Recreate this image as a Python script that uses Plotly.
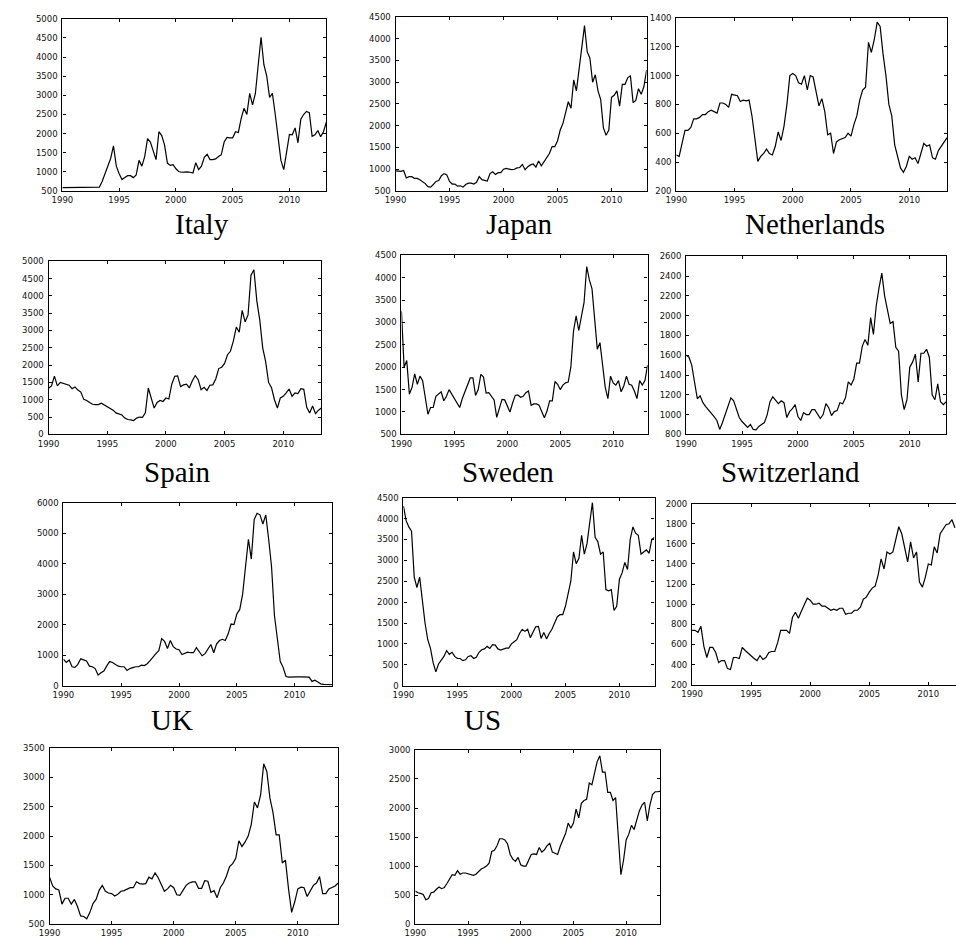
import plotly.graph_objects as go

# ---------------------------------------------------------------------------
# Quarterly series, 1990Q1 onward (one value per quarter)
# ---------------------------------------------------------------------------
START_YEAR = 1990.0

italy = [590, 590, 590, 590, 590, 590, 590, 590, 590, 590, 590, 590,
         590, 600, 750, 950, 1150, 1350, 1680, 1150, 950, 800, 850, 900,
         900, 850, 920, 1300, 1150, 1400, 1870, 1780, 1550, 1320, 2050, 1950,
         1700, 1230, 1170, 1190, 1080, 1010, 990, 1000, 1000, 990, 970, 1240,
         1060, 1150, 1380, 1460, 1320, 1320, 1340, 1400, 1450, 1780, 1900, 1890,
         1890, 2050, 2030, 2400, 2660, 2500, 3050, 2750, 3050, 3800, 4520, 3800,
         3500, 2950, 3050, 2500, 1900, 1300, 1060, 1500, 1980, 1970, 2150, 1760,
         2380, 2500, 2580, 2550, 1930, 1970, 2080, 1920, 2050, 2300]

japan = [960, 960, 950, 970, 800, 830, 830, 790, 790, 760, 720, 670,
         600, 590, 650, 720, 740, 850, 900, 870, 720, 660, 660, 610,
         620, 590, 650, 680, 680, 660, 700, 830, 760, 750, 730, 900,
         940, 880, 920, 920, 1000, 1020, 1000, 990, 1000, 1030, 1040, 1110,
         990, 1060, 1100, 1120, 1050, 1190, 1080, 1170, 1250, 1360, 1520, 1520,
         1650, 1900, 2050, 2300, 2550, 2400, 3050, 2800, 3300, 3800, 4300, 3700,
         3550, 3000, 3170, 2800, 2600, 1950, 1780, 1900, 2650, 2700, 2800, 2450,
         2950, 2950, 3100, 3150, 2530, 2580, 2850, 2720, 2900, 3280]

netherlands = [450, 440, 530, 620, 620, 640, 700, 700, 710, 730, 730, 750,
               760, 750, 740, 810, 810, 800, 780, 870, 865, 860, 820, 830,
               825, 830, 720, 540, 405, 440, 460, 490, 460, 450, 510, 610,
               550, 650, 800, 1000, 1015, 1000, 950, 940, 1000, 900, 1000, 990,
               880, 790, 840, 750, 590, 600, 460, 540, 555, 565, 570, 600,
               580, 660, 720, 830, 900, 920, 1230, 1160, 1250, 1370, 1340, 1150,
               1000, 800, 720, 520, 430, 360, 330, 370, 440, 420, 430, 390,
               460, 530, 510, 520, 430, 420, 480, 510, 540, 570]

spain = [1330, 1400, 1680, 1400, 1500, 1480, 1450, 1420, 1320, 1370, 1280, 1220,
         1010, 980, 920, 870, 860, 860, 900, 850, 800, 760, 700, 620,
         590, 560, 470, 430, 420, 400, 470, 500, 490, 620, 1340, 1050,
         760, 920, 980, 950, 1050, 1020, 1450, 1680, 1690, 1380, 1430, 1450,
         1340, 1550, 1700, 1580, 1290, 1360, 1270, 1420, 1430, 1600, 1900, 1940,
         2050, 2300, 2400, 2700, 3100, 2950, 3580, 3250, 3450, 4600, 4750, 3850,
         3300, 2500, 2100, 1500, 1350, 1000, 760, 1050, 1100, 1200, 1310, 1100,
         1200, 1180, 1320, 1300, 780, 620, 820, 600, 700, 760]

sweden = [3250, 2000, 2150, 1400, 1550, 1850, 1620, 1800, 1700, 1300, 950, 1100,
          1100, 1350, 1400, 1450, 1250, 1350, 1500, 1400, 1300, 1170, 1100, 1300,
          1450, 1620, 1760, 1760, 1370, 1500, 1840, 1780, 1420, 1430, 1350, 1270,
          880, 1100, 1280, 1270, 1150, 1000, 1200, 1370, 1380, 1330, 1350, 1430,
          1470, 1150, 1180, 1180, 1150, 1020, 870, 1020, 1250, 1250, 1680, 1620,
          1500, 1600, 1650, 1670, 2000, 2800, 3150, 2820, 3100, 3450, 4250, 3950,
          3750, 3000, 2400, 2550, 2000, 1550, 1300, 1800, 1650, 1600, 1700, 1450,
          1580, 1800, 1620, 1600, 1470, 1300, 1700, 1600, 1700, 2050]

switzerland = [1600, 1580, 1500, 1330, 1160, 1190, 1120, 1080, 1050, 1010, 980, 940,
               850, 920, 1000, 1070, 1170, 1140, 1060, 970, 930, 900, 870, 900,
               850, 845, 880, 900, 920, 1000, 1130, 1180, 1150, 1110, 1140, 1120,
               970, 1030, 1060, 1100, 980, 940, 1020, 1000, 1000, 1050, 1050, 1000,
               960, 1000, 1110, 1070, 990, 1030, 1040, 1120, 1110, 1170, 1330, 1300,
               1360, 1520, 1520, 1690, 1760, 1700, 1980, 1810, 2100, 2280, 2430, 2200,
               2050, 1920, 1940, 1680, 1640, 1200, 1050, 1150, 1480, 1530, 1610, 1330,
               1620, 1620, 1660, 1580, 1200, 1150, 1310, 1130, 1100, 1130]

uk = [870, 760, 840, 620, 600, 700, 880, 850, 810, 640, 620, 560,
      350, 420, 480, 650, 790, 760, 690, 640, 620, 620, 500, 560,
      590, 620, 620, 670, 660, 720, 820, 950, 1050, 1150, 1540, 1450,
      1220, 1480, 1280, 1200, 1180, 1020, 1070, 1100, 1080, 1080, 1250, 1120,
      980, 1050, 1200, 1350, 1080, 1370, 1480, 1520, 1480, 1700, 2020, 2000,
      2350, 2500, 3000, 3900, 4800, 4150, 5450, 5650, 5600, 5300, 5600, 4800,
      3900, 2300, 1500, 800, 600, 300, 280, 290, 290, 290, 290, 290,
      290, 280, 140, 180, 120, 60, 40, 30, 30, 30]

us = [4300, 3950, 3800, 3700, 2600, 2350, 2600, 2000, 1500, 1100, 900, 550,
      330, 520, 600, 700, 840, 750, 800, 700, 650, 650, 600, 620,
      700, 720, 650, 680, 800, 860, 880, 940, 890, 980, 970, 880,
      850, 880, 900, 900, 1000, 1050, 1100, 1250, 1350, 1300, 1350, 1150,
      1280, 1410, 1420, 1130, 1270, 1120, 1250, 1350, 1500, 1650, 1700, 1700,
      1900, 2250, 2500, 3200, 2920, 3050, 3600, 3150, 3400, 3900, 4380, 3550,
      3450, 3150, 3200, 2300, 2270, 2300, 1800, 1900, 2550, 2700, 2950, 2780,
      3500, 3800, 3650, 3600, 3150, 3200, 3250, 3170, 3500, 3550]

panel_9 = [740, 740, 720, 780, 580, 470, 570, 570, 520, 420, 440, 440,
           360, 350, 470, 470, 460, 570, 540, 510, 480, 460, 440, 490,
           450, 470, 520, 530, 530, 620, 740, 740, 740, 710, 870, 920,
           860, 930, 1000, 1060, 1040, 1000, 1000, 1010, 980, 980, 960, 940,
           950, 940, 960, 960, 900, 910, 910, 940, 940, 970, 1050, 1070,
           1120, 1160, 1180, 1290, 1450, 1350, 1520, 1500, 1520, 1650, 1770, 1700,
           1570, 1420, 1620, 1460, 1520, 1220, 1170, 1270, 1400, 1390, 1570, 1510,
           1700, 1740, 1790, 1800, 1840, 1760]

panel_10 = [1300, 1150, 1100, 1080, 840, 940, 940, 840, 920, 800, 640, 630,
            590, 700, 850, 920, 1080, 1160, 1060, 1030, 1020, 980, 1010, 1060,
            1070, 1090, 1120, 1120, 1220, 1190, 1180, 1190, 1300, 1270, 1370, 1290,
            1180, 1060, 1100, 1160, 1120, 1000, 990, 1080, 1160, 1200, 1220, 1220,
            1110, 1110, 1240, 1230, 1040, 1070, 950, 1120, 1200, 1320, 1480, 1530,
            1620, 1920, 1820, 1900, 2000, 2200, 2580, 2480, 2700, 3230, 3100, 2650,
            2400, 2020, 2020, 1540, 1590, 1100, 700, 880, 1100, 1130, 1120, 970,
            1070, 1160, 1200, 1310, 1020, 1020, 1100, 1130, 1150, 1200]

panel_11 = [570, 540, 530, 510, 420, 440, 540, 550, 600, 640, 610, 630,
            700, 780, 850, 840, 920, 860, 880, 880, 870, 860, 840, 860,
            910, 950, 970, 1000, 1050, 1250, 1270, 1350, 1470, 1470, 1450, 1380,
            1200, 1120, 1080, 1150, 1020, 1000, 1000, 1100, 1200, 1210, 1200, 1320,
            1240, 1280, 1350, 1390, 1240, 1220, 1200, 1340, 1450, 1560, 1740, 1650,
            1740, 1980, 1830, 2080, 2130, 2150, 2430, 2400, 2600, 2800, 2900, 2620,
            2620, 2270, 2270, 2130, 2180, 1500, 850, 1100, 1450, 1550, 1700, 1630,
            1800, 1950, 2050, 2100, 1780, 2050, 2230, 2280, 2280, 2290]

# Panel captions (panels 9-11 carry none)
labels = ["Italy", "Japan", "Netherlands", "Spain", "Sweden", "Switzerland",
          "UK", "US", "", "", ""]

x_ticks = [1990, 1995, 2000, 2005, 2010]

# y tick sets per panel: (first, last, step)
y_tick_specs = [(500, 5000, 500), (500, 4500, 500), (200, 1400, 200),
                (0, 5000, 500), (500, 4500, 500), (800, 2600, 200),
                (0, 6000, 1000), (0, 4500, 500), (200, 2000, 200),
                (500, 3500, 500), (0, 3000, 500)]

series = [italy, japan, netherlands, spain, sweden, switzerland,
          uk, us, panel_9, panel_10, panel_11]

# ---------------------------------------------------------------------------
# Page geometry (pixels): plot box left, right, top, bottom
# ---------------------------------------------------------------------------
W, H = 956, 938
boxes = [
    (52, 319, 14, 188), (389, 643, 12, 188), (673, 947, 13, 188),
    (38, 314, 259, 434), (395, 644, 253, 434), (683, 946, 254, 434),
    (53, 325, 503, 688), (397, 651, 498, 688), (689, 956, 504, 687),
    (39, 331, 751, 929), (409, 657, 753, 929),
]
# x-range end per panel (panel 9 runs off the right edge of the page)
x_end = [2013.25] * 11
x_end[8] = 1990 + (956 - 689) / 11.95

label_pos = [(193, 221), (514, 221), (813, 221),
             (168, 472), (503, 472), (789, 472),
             (163, 723), (477, 723)]

tick_font = dict(family="DejaVu Sans", size=8.5, color="#111111")

fig = go.Figure()
layout = dict(
    width=W, height=H,
    margin=dict(l=0, r=0, t=0, b=0),
    paper_bgcolor="white", plot_bgcolor="white",
    showlegend=False,
)

for k, (vals, box, spec) in enumerate(zip(series, boxes, y_tick_specs)):
    n = k + 1
    xs = [START_YEAR + 0.25 * i for i in range(len(vals))]
    xa = "x" if n == 1 else f"x{n}"
    ya = "y" if n == 1 else f"y{n}"
    fig.add_trace(go.Scatter(
        x=xs, y=vals, mode="lines", xaxis=xa, yaxis=ya,
        line=dict(color="black", width=1.2), hoverinfo="skip",
    ))
    l, r, t, b = box
    y0, y1, step = spec
    yt = list(range(y0, y1 + 1, step))
    common = dict(
        showline=True, linecolor="black", linewidth=1.2,
        ticks="inside", ticklen=3, tickwidth=0.8, tickcolor="black",
        showgrid=False, zeroline=False, tickfont=tick_font,
    )
    layout[f"xaxis{n if n > 1 else ''}"] = dict(
        domain=[l / W, min(r / W, 1.0)], anchor=ya,
        range=[1990, x_end[k]], tickvals=x_ticks,
        ticktext=[str(v) for v in x_ticks],
        mirror="ticks", ticklabelstandoff=1, **common,
    )
    layout[f"yaxis{n if n > 1 else ''}"] = dict(
        domain=[1 - b / H, 1 - t / H], anchor=xa,
        range=[y0, y1], tickvals=yt, ticktext=[str(v) for v in yt],
        mirror=(False if k == 8 else "ticks"), ticklabelstandoff=2, **common,
    )

annotations = []
for text, (cx, cy) in zip(labels, label_pos):
    annotations.append(dict(
        text=text, x=cx / W, y=1 - cy / H, xref="paper", yref="paper",
        xanchor="center", yanchor="middle", showarrow=False,
        font=dict(family="Liberation Serif", size=29, color="black"),
    ))
layout["annotations"] = annotations

fig.update_layout(**layout)
fig.write_html("out.html")
